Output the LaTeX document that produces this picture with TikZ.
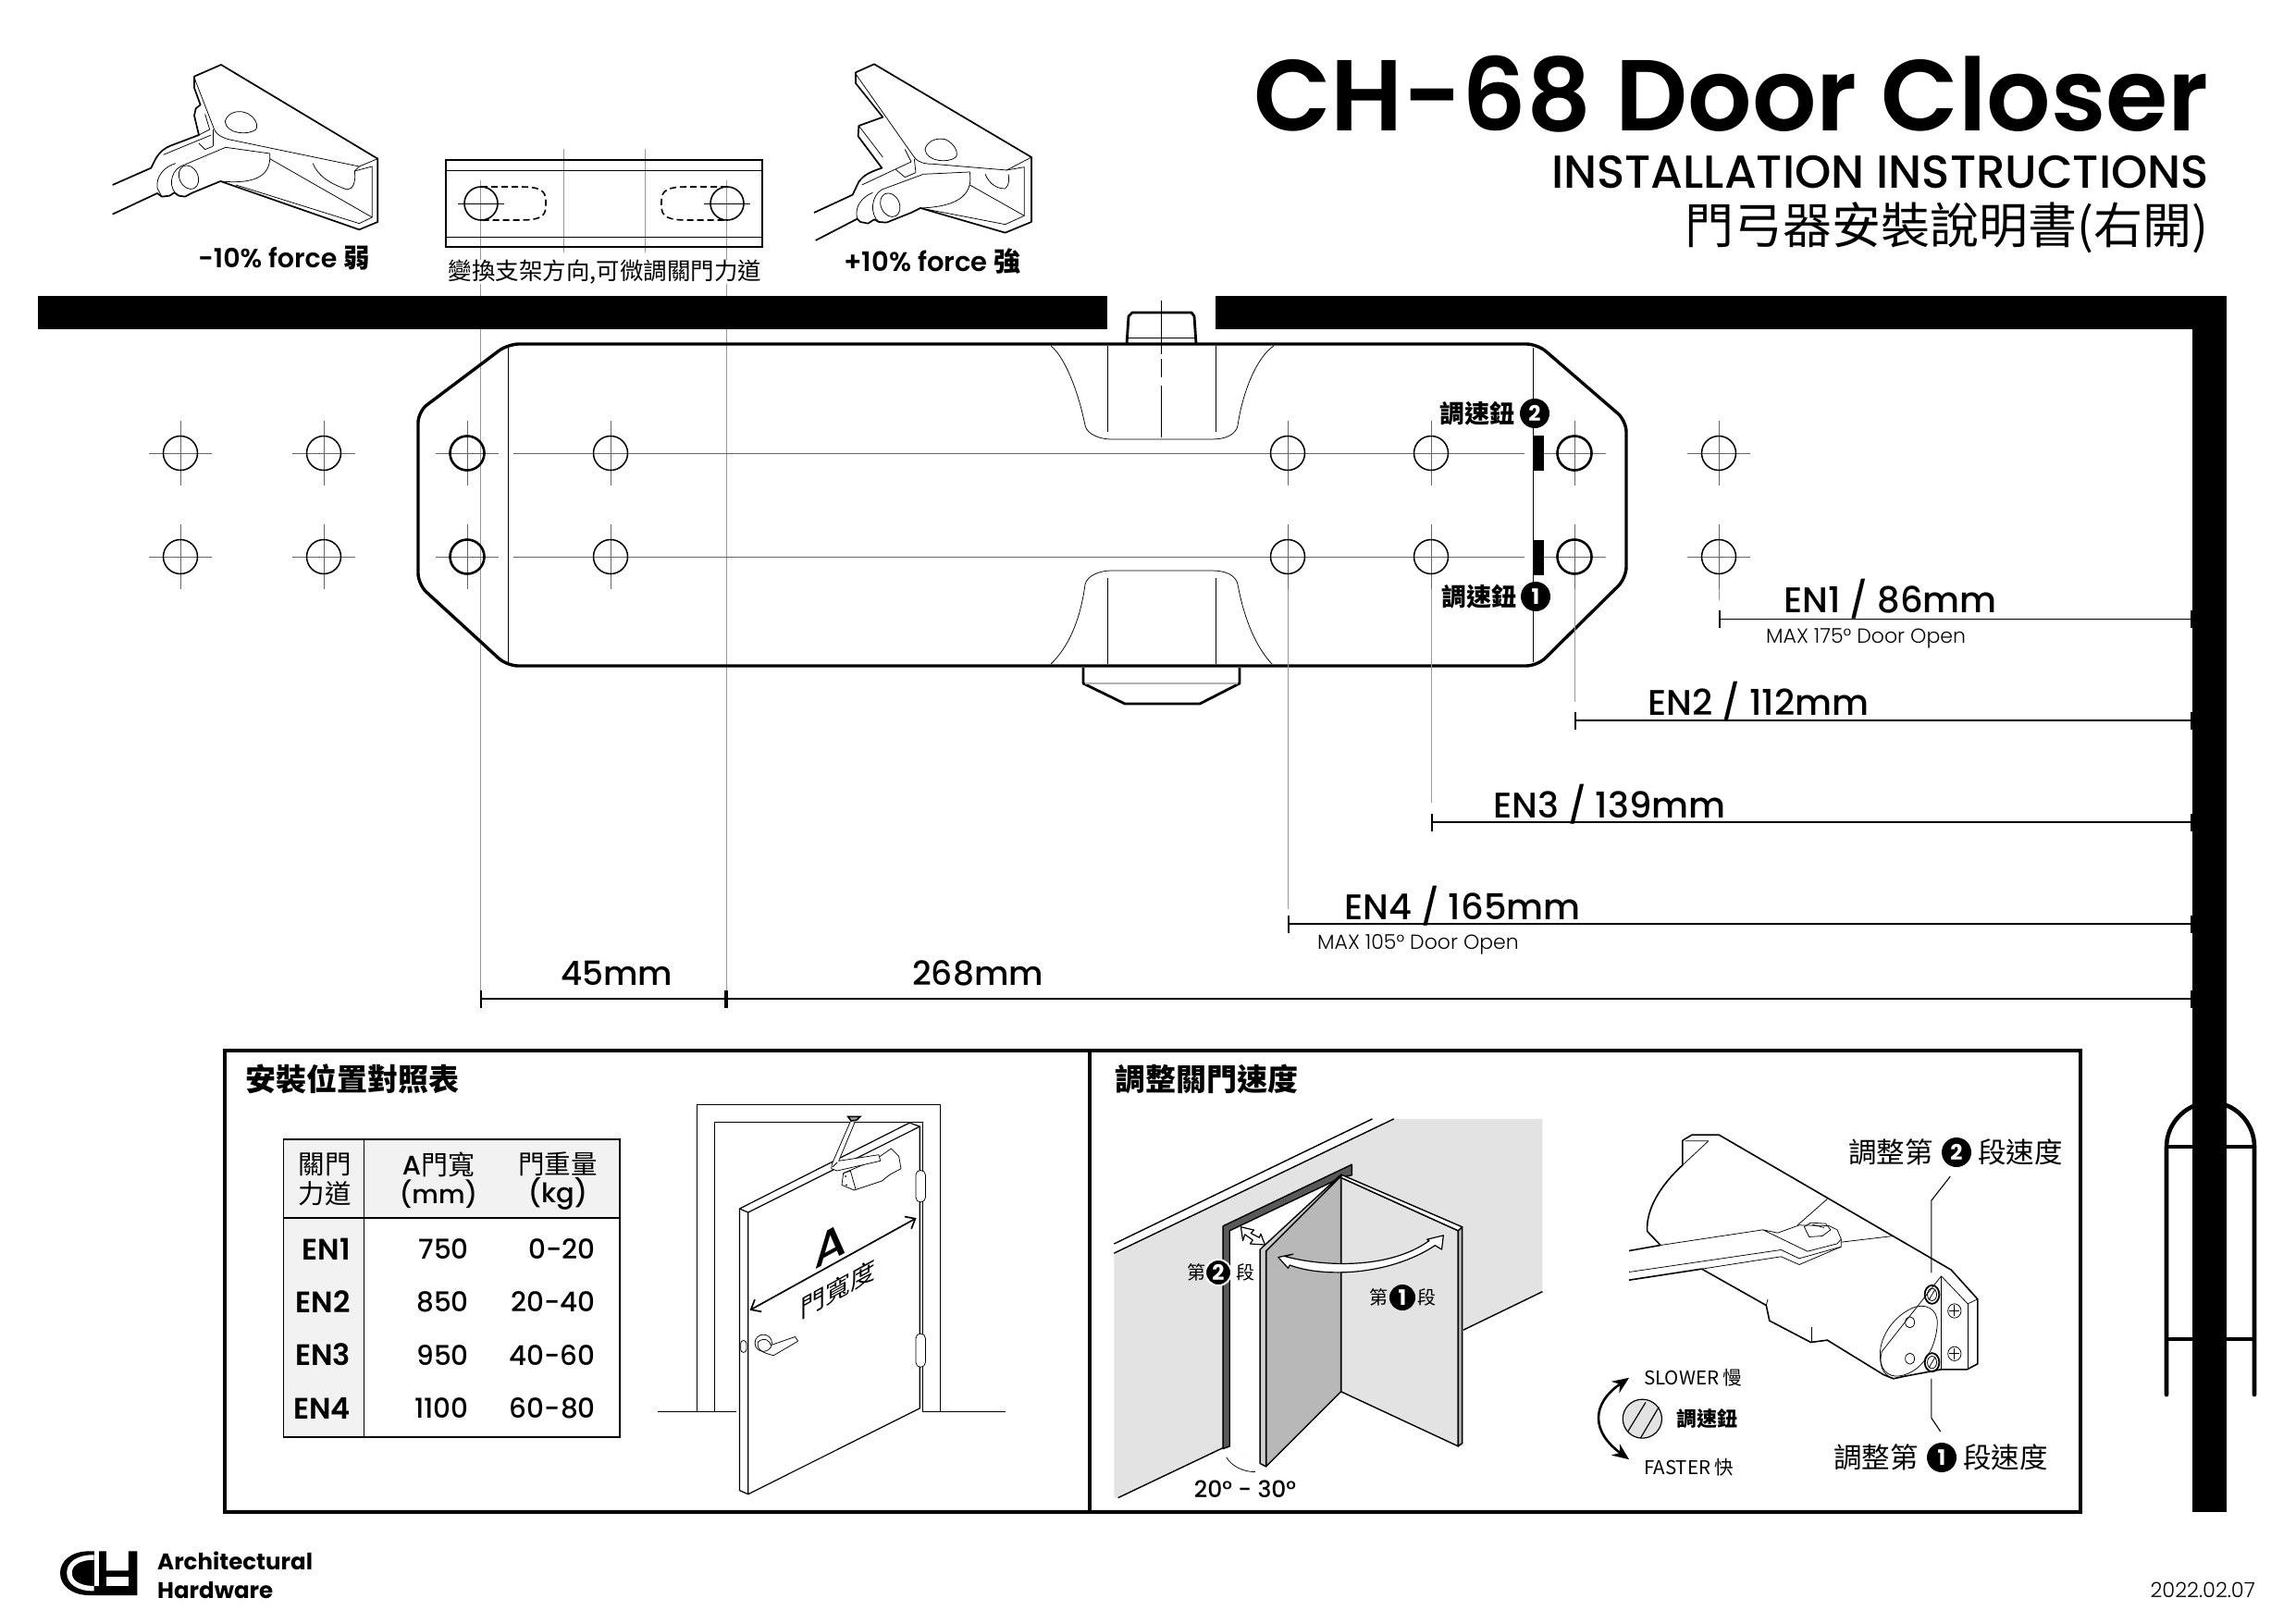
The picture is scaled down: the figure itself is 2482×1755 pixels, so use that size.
\documentclass[tikz,border=0pt]{standalone}
\usepackage{fontspec}
\setmainfont{Poppins}[BoldFont={Poppins SemiBold}]
\newfontfamily\cjk{Noto Sans CJK TC}
\newfontfamily\poplight{Poppins Light}
\newfontfamily\popmed{Poppins Medium}
\newfontfamily\popheavy{Poppins Bold}
\usetikzlibrary{arrows.meta}
\newcommand{\fs}[1]{\fontsize{#1}{#1}\selectfont}
\definecolor{wallgrey}{gray}{.89}
\definecolor{doorgrey}{gray}{.72}
\definecolor{headgrey}{gray}{.95}
\definecolor{guidegrey}{gray}{.6}
\definecolor{framegrey}{gray}{.35}
\tikzset{every node/.style={inner sep=0pt},
	heavy/.style={line width=3.4pt,line join=round},
	outline/.style={line width=1.7pt,line join=round},
	fine/.style={line width=.75pt,line join=round},
	guide/.style={line width=.9pt,guidegrey},
	centre/.style={line width=.9pt,black!60},
	dimline/.style={line width=1.2pt,{Bar[width=19pt,line width=1.6pt]}-{Bar[width=19pt,line width=1.6pt]}},
	badge/.style={circle,fill=black,text=white,minimum size=#1,font=\popheavy\fs{23}},
	gatebar/.style={line width=4.6pt,line cap=round},
	cjknote/.style={font=\cjk\fs{#1}}}
\begin{document}
\begin{tikzpicture}[x=1pt,y=-1pt]
\useasboundingbox (0,0) rectangle (2482,1755);
% guide lines behind everything
\draw[guide] (519,195) -- (519,1080);
\draw[guide] (785,195) -- (785,1080);
\draw[guide] (609,161) -- (609,273);
\draw[guide] (697,161) -- (697,273);
% door swing and wall
\draw[gatebar] (2342,1508) -- (2342,1240) .. controls (2342,1214) and (2364,1192) .. (2390,1192) .. controls (2416,1192) and (2437,1214) .. (2437,1240) -- (2437,1508);
\draw[line width=3.4pt] (2342,1240) -- (2437,1240);
\draw[line width=3.4pt] (2342,1448) -- (2437,1448);
\fill (41,320) rectangle (1197,356);
\fill (1314,320) rectangle (2407,356);
\fill (2370,320) rectangle (2407,1635);
% title
\node[anchor=base east,font=\bfseries\fs{109}] (title) at (2388,142) {CH-68 Door Closer};
\node[anchor=base east,font=\popmed\fs{50}] (subtitle) at (2388,204) {INSTALLATION INSTRUCTIONS};
\node[anchor=base east,cjknote=53] (subtitlezh) at (2388,263) {門弓器安裝說明書(右開)};
% left clip
\begin{scope}[shift={(115,60)},x=.3333pt,y=-.3333pt]
	\draw[outline] (20,420) -- (145,365) -- (160,335) .. controls (175,310) and (190,300) .. (210,292) -- (300,258) -- (285,195) -- (290,172) -- (305,160) -- (285,105) -- (285,68) -- (372,30) -- (880,335) -- (880,540) -- (820,565) -- (370,408) -- (280,445) -- (255,458) -- (235,455) -- (220,445) -- (205,455) -- (180,458) -- (165,447) -- (20,515);
	\draw[fine] (285,70) -- (290,85) -- (350,240) .. controls (360,262) and (385,270) .. (410,275) -- (820,360) -- (880,335);
	\draw[fine] (805,375) -- (862,360) -- (862,525) -- (820,545) -- (420,420);
	\draw[fine] (530,335) -- (862,525);
	\draw[fine] (820,360) -- (805,375);
	\draw[fine] (387,298) -- (240,360) .. controls (205,380) and (200,435) .. (235,455);
	\draw[fine] (387,298) -- (530,318) .. controls (535,380) and (500,420) .. (370,408);
	\draw[fine,rotate around={25:(267,395)}] (267,395) ellipse (30 and 40);
	\draw[fine] (670,350) .. controls (690,400) and (740,420) .. (780,435) .. controls (800,435) and (810,410) .. (805,375);
	\draw[fine] (385,215) .. controls (390,190) and (420,175) .. (450,185) .. controls (480,195) and (495,225) .. (485,240) .. controls (460,260) and (390,255) .. (385,215);
	\draw[fine] (345,240) -- (345,295);
	\draw[fine] (185,322) -- (340,258);
	\draw[fine] (300,285) -- (320,305) -- (345,295);
	\draw[fine] (225,350) .. controls (190,360) and (160,390) .. (165,430) -- (180,458);
	\draw[fine] (320,190) -- (335,240) -- (300,258);
\end{scope}
\node[font=\bfseries\fs{28.5}] (weaklabel) at (307,279) {-10\% force {\cjk 弱}};
% right clip
\begin{scope}[shift={(875,60)},x=.3333pt,y=-.3333pt]
	\draw[outline] (15,510) -- (140,452) -- (160,410) .. controls (175,390) and (190,380) .. (235,365) -- (158,262) -- (160,228) -- (238,200) -- (150,90) -- (150,55) -- (210,28) -- (720,330) -- (720,540) -- (635,575) -- (360,495) -- (330,510) -- (250,542) -- (225,540) -- (210,532) -- (190,545) -- (165,540) -- (155,530) -- (20,600);
	\draw[fine] (150,60) -- (340,330) .. controls (355,350) and (380,352) .. (400,352) -- (640,372) -- (720,330);
	\draw[fine] (640,372) -- (697,362) -- (697,520) -- (635,548) -- (360,495);
	\draw[fine] (520,420) -- (697,520);
	\draw[fine] (160,228) -- (238,330);
	\draw[fine] (370,385) -- (235,435) .. controls (200,455) and (195,515) .. (225,540);
	\draw[fine] (370,385) -- (520,378) .. controls (530,440) and (500,490) .. (360,495);
	\draw[fine,rotate around={25:(262,485)}] (262,485) ellipse (30 and 40);
	\draw[fine] (570,385) .. controls (585,420) and (610,432) .. (635,432) .. controls (650,420) and (648,395) .. (645,385);
	\draw[fine] (375,305) .. controls (380,280) and (410,265) .. (440,272) .. controls (470,285) and (485,315) .. (475,330) .. controls (450,350) and (380,345) .. (375,305);
	\draw[fine] (340,335) -- (345,380);
	\draw[fine] (170,420) -- (330,345) -- (310,305);
	\draw[fine] (280,370) -- (310,395) -- (345,380);
	\draw[fine] (205,445) .. controls (170,460) and (145,490) .. (155,530);
\end{scope}
\node[font=\bfseries\fs{29}] (stronglabel) at (1008,283) {+10\% force {\cjk 強}};
% bracket
\draw[line width=1.6pt] (482,173) rectangle (824,267);
\draw[fine] (482,184) -- (824,184);
\draw[fine] (482,256) -- (824,256);
\foreach \bx/\sx in {520/590,786/715} {
	\draw[line width=1.6pt] (\bx,220) circle (18);
	\draw[fine] (\bx-25,220) -- (\bx+25,220);
	\pgfmathsetmacro{\cx}{\bx+(\sx-\bx)*.62}
	\draw[line width=1.6pt,dash pattern=on 7pt off 4pt] (\bx,202) -- (\cx,202) .. controls (\sx,202) and (\sx,210) .. (\sx,220) .. controls (\sx,230) and (\sx,238) .. (\cx,238) -- (\bx,238);
}
\node[cjknote=25.5,fill=white] (bracketnote) at (654,294) {變換支架方向,可微調關門力道};
% closer body
\draw[heavy,rounded corners=12pt] (549,372) -- (1662,372) -- (1758,455) -- (1758,625) -- (1662,720) -- (548,720) -- (452,632) -- (452,445) -- cycle;
\draw[fine] (549,376) -- (549,716);
\draw[fine] (1657,376) -- (1657,716);
\draw[heavy,line width=2.8pt] (1218,372) -- (1220,342) -- (1224,338) -- (1288,338) -- (1291,342) -- (1293,372);
\draw[fine] (1220,365) -- (1291,365);
\draw[fine,dash pattern=on 58pt off 5pt on 20pt off 9pt] (1255,325) -- (1255,473);
\draw[line width=2.8pt,line join=round] (1171,722) -- (1171,739) -- (1216,761) -- (1297,761) -- (1340,739) -- (1340,722);
\draw[line width=1.4pt,black!30] (1173,739) -- (1338,739);
\draw[fine] (1136,374) .. controls (1150,385) and (1165,420) .. (1173,460) .. controls (1175,470) and (1190,475) .. (1201,475) -- (1310,475) .. controls (1325,475) and (1336,470) .. (1338,460) .. controls (1344,420) and (1360,385) .. (1377,374);
\draw[fine] (1136,718) .. controls (1155,700) and (1168,670) .. (1173,632) .. controls (1175,622) and (1190,617) .. (1201,617) -- (1310,617) .. controls (1325,617) and (1336,622) .. (1338,632) .. controls (1345,670) and (1358,700) .. (1375,718);
\foreach \lx in {1197,1314} {
	\draw[fine] (\lx,374) -- (\lx,467);
	\draw[fine] (\lx,625) -- (\lx,718);
}
% mounting holes
\foreach \hy in {490,602} {
	\draw[centre] (555,\hy) -- (1648,\hy);
	\foreach \hx in {195,350,505,660,1392,1547,1702,1858} {
		\draw[centre] (\hx-34,\hy) -- (\hx+34,\hy);
		\draw[centre] (\hx,\hy-35) -- (\hx,\hy+35);
		\draw[line width=1.5pt] (\hx,\hy) circle (18.5);
	}
	\draw[line width=2.6pt] (505,\hy) circle (18.5);
	\draw[line width=2.6pt] (1702,\hy) circle (18.5);
}
\fill (1657,471) rectangle (1669,509);
\fill (1657,584) rectangle (1669,622);
\node[anchor=east,font=\cjk\bfseries\fs{27}] (knobtwolabel) at (1638,447) {調速鈕};
\node[badge=32pt] (knobtwo) at (1659,447) {2};
\node[anchor=east,font=\cjk\bfseries\fs{27}] (knobonelabel) at (1640,645) {調速鈕};
\node[badge=32pt] (knobone) at (1660,645) {1};
% dimensions
\draw[guide] (1858,637) -- (1858,649);
\draw[guide] (1702,637) -- (1702,759);
\draw[guide] (1547,637) -- (1547,868);
\draw[guide] (1392,637) -- (1392,983);
\foreach \enx/\eny in {1858/669.5,1702/779,1547/889,1392/999} {
	\coordinate (dimstart) at (\enx,\eny);
	\coordinate (dimend) at (2370,\eny);
	\draw[dimline] (dimstart) -- (dimend);
}
\coordinate (widthA) at (519,1080);
\coordinate (widthB) at (785,1080);
\coordinate (widthC) at (2370,1080);
\draw[dimline] (widthA) -- (widthB);
\draw[dimline] (widthB) -- (widthC);
\node[anchor=base west,font=\popmed\fs{38.5}] (enone) at (1928,662) {EN1 / 86mm};
\node[anchor=base west,font=\popmed\fs{38.5}] (entwo) at (1781,773) {EN2 / 112mm};
\node[anchor=base west,font=\popmed\fs{38.5}] (enthree) at (1614,884) {EN3 / 139mm};
\node[anchor=base west,font=\popmed\fs{38.5}] (enfour) at (1453,994) {EN4 / 165mm};
\node[anchor=base west,font=\poplight\fs{22}] (maxone) at (1909,695) {MAX 175° Door Open};
\node[anchor=base west,font=\poplight\fs{22}] (maxfour) at (1424,1026) {MAX 105° Door Open};
\node[anchor=base west,font=\popmed\fs{36}] (dimleft) at (606,1065) {45mm};
\node[anchor=base west,font=\popmed\fs{36}] (dimright) at (986,1065) {268mm};
% panels
\draw[line width=4.6pt] (243,1136) rectangle (2249,1635);
\draw[line width=4.6pt] (1178,1136) -- (1178,1635);
\node[anchor=west,font=\cjk\bfseries\fs{33}] (tabletitle) at (265,1167) {安裝位置對照表};
\node[anchor=west,font=\cjk\bfseries\fs{33}] (speedtitle) at (1205,1167) {調整關門速度};
% table
\fill[headgrey] (306.5,1232) rectangle (670,1317);
\fill[headgrey] (306.5,1317) rectangle (393.5,1554);
\draw[line width=1.5pt] (306.5,1232) rectangle (670,1554);
\draw[line width=1.5pt] (393.5,1232) -- (393.5,1554);
\draw[line width=2.4pt] (306.5,1317) -- (670,1317);
\node[cjknote=28.5] (headforce) at (351,1259) {關門};
\node[cjknote=28.5] (headforceb) at (351,1291) {力道};
\node[font=\cjk\fs{29}] (headwidth) at (474,1259) {{\popmed A}門寬};
\node[font=\popmed\fs{27.5}] (headmm) at (474,1291) {(mm)};
\node[cjknote=28.5] (headweight) at (603,1259) {門重量};
\node[font=\popmed\fs{29}] (headkg) at (603,1291) {(kg)};
\foreach \rowy/\en/\wide/\kilo in {1351/EN1/750/0-20,1408/EN2/850/20-40,1465/EN3/950/40-60,1523/EN4/1100/60-80} {
	\node[anchor=east,font=\bfseries\fs{32}] (force\en) at (379,\rowy) {\en};
	\node[anchor=east,font=\popmed\fs{29.5}] (wide\en) at (507,\rowy) {\wide};
	\node[anchor=east,font=\popmed\fs{29.5}] (kilo\en) at (644,\rowy) {\kilo};
}
% door in frame
\begin{scope}[shift={(230,1132)},x=.6124pt,y=-.3378pt]
	\draw[line width=1.2pt] (855,1167) -- (855,185) -- (1284,185) -- (1284,1167);
	\draw[line width=1.2pt] (886,1167) -- (886,241) -- (1253,241) -- (1253,1167);
	\draw[line width=1.2pt] (785,1167) -- (925,1167);
	\draw[line width=1.2pt] (1253,1167) -- (1400,1167);
	\draw[line width=1.2pt,fill=white,line join=round] (930,518) -- (1230,243) -- (1248,255) -- (1248,1157) -- (945,1432) -- (930,1420) -- cycle;
	\draw[line width=1.2pt] (945,530) -- (1248,255);
	\draw[line width=1.2pt] (930,518) -- (945,530) -- (945,1432);
	\foreach \hingey/\hingez in {395/497,918/1025} {
		\draw[fine,fill=white,rounded corners=5pt] (1241,\hingey) rectangle (1258,\hingez);
	}
	\draw[fine,fill=white,rounded corners=3pt] (932,940) rectangle (942,978);
	\draw[fine] (972,948) ellipse (15 and 27);
	\draw[fine] (962,945) .. controls (975,925) and (985,945) .. (985,955) -- (1028,928) -- (1033,942) -- (990,988) .. controls (975,980) and (960,975) .. (962,945);
	\coordinate (doorleft) at (948,843);
	\coordinate (doorright) at (1242,548);
	\draw[line width=1.7pt,{Straight Barb[length=9pt,width=15pt]}-{Straight Barb[length=9pt,width=15pt]}] (doorleft) -- (doorright);
\end{scope}
\node[font=\popmed\fs{50},transform shape,yslant=.55] (doorA) at (898,1347) {A};
\node[cjknote=27,transform shape,yslant=.55] (doorwidth) at (906,1394) {門寬度};
% closer on the door
\begin{scope}[shift={(880,1192)},x=.3333pt,y=-.3333pt]
	\draw[fine,fill=white] (95,230) -- (90,268) -- (130,285) -- (220,255) -- (245,235) -- (282,215) -- (275,175) -- (250,150) -- (200,185) -- cycle;
	\draw[fine] (95,230) -- (118,222) -- (135,282);
	\fill (102,240) circle (3) (105,268) circle (3);
	\draw[fine,fill=white] (118,62) -- (58,200) -- (56,215) -- (75,222) -- (215,190) -- (210,170) -- (80,190) -- (132,65);
	\draw[fine] (75,195) -- (60,210);
	\draw[line width=1.6pt,fill=black!40] (110,46) -- (150,46) -- (138,58) -- (120,60) -- cycle;
\end{scope}
% door perspective
\begin{scope}[shift={(1180,1131.5)},x=.3571pt,y=-.3378pt]
	\fill[wallgrey] (68,662) -- (915,232) -- (1365,232) -- (1365,785) -- (1125,908) -- (1125,1280) -- (755,1105) -- (528,1345) -- (418,1285) -- (398,1285) -- (80,1445) -- (68,1445) -- cycle;
	\fill[white] (418,590) -- (755,415) -- (528,655) -- (528,1345) -- (418,1285) -- cycle;
	\draw[line width=1.4pt] (68,632) -- (850,232);
	\draw[line width=1.4pt] (68,662) -- (915,232);
	\draw[line width=1.4pt] (1125,908) -- (1365,785);
	\draw[line width=1.4pt] (80,1445) -- (398,1285);
	\draw[line width=1.4pt,fill=framegrey,line join=round] (398,575) -- (788,378) -- (788,412) -- (755,420) -- (418,590) -- (418,1280) -- (398,1288) -- cycle;
	\draw[line width=1.4pt,fill=wallgrey,line join=round] (755,420) -- (1110,590) -- (1110,1280) -- (755,1105) -- cycle;
	\draw[line width=1.4pt,fill=white,line join=round] (755,410) -- (1122,578) -- (1110,590) -- (755,420) -- cycle;
	\draw[line width=1.4pt,fill=doorgrey,line join=round] (1110,590) -- (1122,578) -- (1122,1270) -- (1110,1280) -- cycle;
	\draw[line width=1.4pt,fill=doorgrey,line join=round] (528,655) -- (755,415) -- (755,1105) -- (528,1345) -- cycle;
	\draw[line width=1.4pt,fill=doorgrey!70,line join=round] (510,650) -- (750,415) -- (755,415) -- (528,655) -- (528,1345) -- (510,1335) -- cycle;
	\draw[line width=1.2pt,fill=white,line join=round] (585,672) .. controls (700,705) and (900,715) .. (1022,622) -- (1015,618) -- (1065,605) -- (1060,650) -- (1040,637) .. controls (900,735) and (700,740) .. (600,700) -- (595,710) -- (565,675) -- (610,665) -- cycle;
	\draw[line width=1.2pt,fill=white,line join=round] (452,578) -- (492,588) -- (482,598) -- (508,612) -- (512,600) -- (525,635) -- (480,632) -- (488,620) -- (464,602) -- (458,622) -- cycle;
	\draw[fine] (408,1315) .. controls (425,1345) and (460,1362) .. (495,1362);
\end{scope}
\node[cjknote=20] (stagetwoa) at (1293,1376) {第};
\node[badge=28pt,draw=white,line width=2pt] (stagetwo) at (1317,1376) {2};
\node[cjknote=20] (stagetwob) at (1346,1376) {段};
\node[cjknote=20] (stageonea) at (1490,1403) {第};
\node[badge=28pt] (stageone) at (1516,1403) {1};
\node[cjknote=20] (stageoneb) at (1542,1403) {段};
\node[font=\popmed\fs{25}] (anglelabel) at (1346,1610) {20° - 30°};
% closer close-up
\begin{scope}[shift={(1720,1201.5)},x=.3571pt,y=-.3333pt]
	\draw[line width=1.6pt,line join=round] (277,95) -- (305,77) -- (387,77) -- (1090,515) -- (1170,610) -- (1170,820) -- (1138,838) -- (1060,838) -- (950,860) -- (915,868) -- (885,855) -- (715,743) -- (665,750) -- (540,680) -- (530,630) -- (335,512);
	\draw[line width=1.6pt,line join=round] (277,95) -- (277,175) .. controls (210,240) and (165,320) .. (170,390) -- (210,435);
	\draw[fine] (277,175) -- (355,97) -- (285,97);
	\draw[line width=1.6pt] (115,453) -- (210,435);
	\draw[line width=1.6pt] (115,548) -- (335,512);
	\draw[fine] (210,435) -- (520,385) -- (655,455) -- (745,430) -- (757,415) -- (745,385) -- (720,372) -- (630,370) -- (565,395) -- (520,385);
	\draw[fine] (115,522) -- (575,450) -- (630,478) -- (757,440);
	\draw[fine] (335,512) -- (575,472) -- (630,498) -- (757,440) -- (757,415);
	\draw[fine] (625,370) -- (715,285);
	\draw[fine] (757,425) -- (915,405);
	\draw[fine] (645,375) -- (665,362) -- (710,365) -- (725,385) -- (700,405) -- (660,408) -- cycle;
	\draw[fine] (670,368) -- (705,378);
	\draw[fine] (535,610) -- (530,630);
	\draw[fine] (667,700) -- (667,750);
	\draw[fine] (1060,535) -- (880,780) .. controls (870,820) and (880,855) .. (915,868);
	\draw[fine] (1060,535) -- (1060,838);
	\draw[fine] (1060,535) -- (1140,625) -- (1170,610);
	\draw[fine] (1140,625) -- (1140,838);
	\draw[fine] (1048,690) .. controls (1050,640) and (1010,620) .. (970,640) .. controls (910,670) and (870,740) .. (875,800) .. controls (878,850) and (910,870) .. (950,855) .. controls (1010,835) and (1045,760) .. (1048,690);
	\draw[fine] (965,685) ellipse (14 and 18);
	\draw[fine] (965,803) ellipse (14 and 18);
	\foreach \sy in {595,815} {
		\draw[line width=1.8pt] (1032,\sy) ellipse (22 and 30);
		\draw[fine] (1032,\sy) ellipse (14 and 20);
		\draw[fine] (1022,\sy+18) -- (1042,\sy-18);
	}
	\foreach \sy in {648,787} {
		\draw[fine] (1100,\sy) ellipse (20 and 23);
		\draw[fine] (1085,\sy) -- (1115,\sy);
		\draw[fine] (1100,\sy-18) -- (1100,\sy+18);
	}
	\coordinate (leadertwoa) at (1087,212);
	\coordinate (leadertwob) at (1030,290);
	\coordinate (leadertwoc) at (1030,525);
	\draw[line width=1.1pt] (leadertwoa) -- (leadertwob) -- (leadertwoc);
	\coordinate (leaderonea) at (1030,868);
	\coordinate (leaderoneb) at (1030,995);
	\coordinate (leaderonec) at (1058,1040);
	\draw[line width=1.1pt] (leaderonea) -- (leaderoneb) -- (leaderonec);
	\coordinate (knobup) at (115,865);
	\coordinate (knobdown) at (115,1130);
	\draw[line width=2.6pt,{Stealth[length=18pt,width=15pt]}-{Stealth[length=18pt,width=15pt]}] (knobup) .. controls (0,950) and (0,1040) .. (knobdown);
	\draw[line width=1.2pt,fill=wallgrey] (155,998) ellipse (59 and 63);
	\draw[line width=1.2pt] (112,1038) -- (165,945);
	\draw[line width=1.2pt] (150,1060) -- (205,960);
\end{scope}
\node[anchor=west,cjknote=30.5] (adjusttwoa) at (1998,1246) {調整第};
\node[badge=32pt] (adjusttwo) at (2115,1246) {2};
\node[anchor=west,cjknote=30.5] (adjusttwob) at (2138,1246) {段速度};
\node[anchor=west,cjknote=30.5] (adjustonea) at (1982,1576) {調整第};
\node[badge=32pt] (adjustone) at (2099,1576) {1};
\node[anchor=west,cjknote=30.5] (adjustoneb) at (2122,1576) {段速度};
\node[anchor=west,font=\cjk\fs{20.5}] (slowerlabel) at (1777,1490) {SLOWER 慢};
\node[anchor=west,font=\cjk\fs{20.5}] (fasterlabel) at (1777,1587) {FASTER 快};
\node[anchor=west,font=\cjk\bfseries\fs{22}] (knoblabel) at (1812,1534) {調速鈕};
% logo
\begin{scope}[shift={(55,1670)},x=.3333pt,y=-.3333pt]
	\fill (125,22) .. controls (65,22) and (30,55) .. (30,93) .. controls (30,135) and (70,165) .. (125,165) -- (280,165) -- (280,22) -- (252,22) -- (252,85) -- (180,85) -- (180,22) -- cycle;
	\fill[white] (180,105) rectangle (252,135);
	\fill[white] (140,20) rectangle (155,135);
	\draw[white,line width=5.5pt] (140,42) .. controls (85,42) and (60,65) .. (60,92) .. controls (60,120) and (85,143) .. (140,143);
\end{scope}
\node[anchor=base west,font=\popheavy\fs{24.5}] (logotop) at (170,1697) {Architectural};
\node[anchor=base west,font=\popheavy\fs{24.5}] (logobottom) at (170,1728) {Hardware};
\node[anchor=base east,font=\poplight\fs{22.5}] (datelabel) at (2438,1727) {2022.02.07};
\end{tikzpicture}
\end{document}
